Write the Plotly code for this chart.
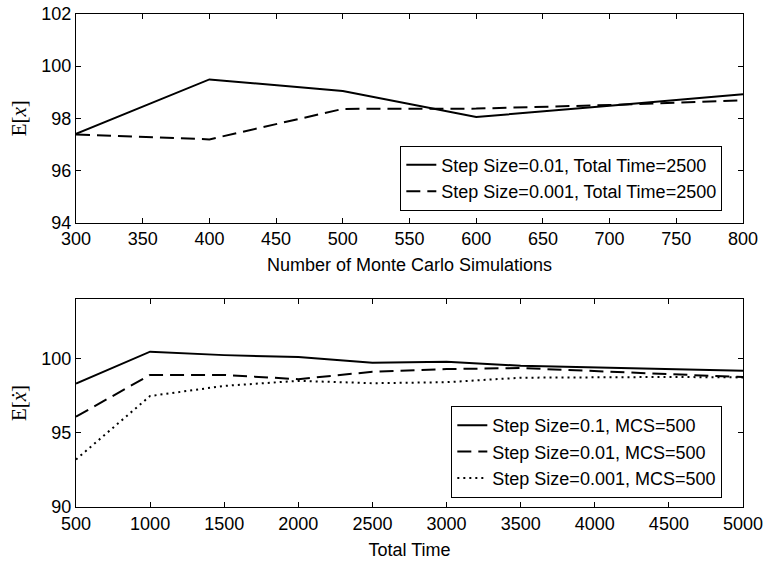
import plotly.graph_objects as go

# Top panel data
mcs = [300, 400, 500, 600, 700, 800]
top_step001 = [97.40, 99.49, 99.05, 98.05, 98.48, 98.92]
top_step0001 = [97.38, 97.19, 98.36, 98.37, 98.51, 98.69]
top_names = ["Step Size=0.01, Total Time=2500", "Step Size=0.001, Total Time=2500"]

# Bottom panel data
total_time = [500, 1000, 1500, 2000, 2500, 3000, 3500, 4000, 4500, 5000]
bot_step01 = [98.31, 100.45, 100.22, 100.09, 99.70, 99.78, 99.50, 99.40, 99.28, 99.16]
bot_step001 = [96.08, 98.89, 98.89, 98.60, 99.10, 99.28, 99.35, 99.16, 98.94, 98.74]
bot_step0001 = [93.20, 97.47, 98.15, 98.49, 98.33, 98.40, 98.70, 98.75, 98.75, 98.72]
bot_names = ["Step Size=0.1, MCS=500", "Step Size=0.01, MCS=500", "Step Size=0.001, MCS=500"]

top_xticks = list(range(300, 801, 50))
top_yticks = [94, 96, 98, 100, 102]
bot_xticks = list(range(500, 5001, 500))
bot_yticks = [90, 95, 100]

font_sans = "Liberation Sans, Arial, sans-serif"
font_serif = "Liberation Serif, DejaVu Serif, serif"

fig = go.Figure()
dashes = ["solid", "14px,7px", "2px,4px"]

fig.add_trace(go.Scatter(x=mcs, y=top_step001, mode="lines", name=top_names[0],
                         line=dict(color="black", width=2, dash=dashes[0]),
                         xaxis="x", yaxis="y", legend="legend"))
fig.add_trace(go.Scatter(x=mcs, y=top_step0001, mode="lines", name=top_names[1],
                         line=dict(color="black", width=2, dash=dashes[1]),
                         xaxis="x", yaxis="y", legend="legend"))

for vals, nm, d in zip([bot_step01, bot_step001, bot_step0001], bot_names, dashes):
    fig.add_trace(go.Scatter(x=total_time, y=vals, mode="lines", name=nm,
                             line=dict(color="black", width=2, dash=d),
                             xaxis="x2", yaxis="y2", legend="legend2"))

axis_common = dict(showline=True, linecolor="black", linewidth=1, mirror="ticks",
                   ticks="inside", ticklen=5, tickcolor="black", showgrid=False,
                   zeroline=False, automargin=False,
                   tickfont=dict(family=font_sans, size=18, color="black"))

legend_common = dict(x=0.969, xanchor="right", yanchor="top",
                     bgcolor="white", bordercolor="black", borderwidth=1,
                     font=dict(family=font_sans, size=18, color="black"),
                     tracegroupgap=0)

fig.update_layout(
    width=764, height=567,
    margin=dict(l=76, r=21, t=14, b=60, autoexpand=False),
    plot_bgcolor="white", paper_bgcolor="white",
    xaxis=dict(domain=[0, 1], anchor="y", range=[300, 800], tickvals=top_xticks,
               title=dict(text="Number of Monte Carlo Simulations", standoff=10,
                          font=dict(family=font_sans, size=18, color="black")),
               **axis_common),
    yaxis=dict(domain=[0.577, 1.0], anchor="x", range=[94, 102], tickvals=top_yticks,
               title=dict(text="E[<i>x</i>]", standoff=8,
                          font=dict(family=font_serif, size=21, color="black")),
               **axis_common),
    xaxis2=dict(domain=[0, 1], anchor="y2", range=[500, 5000], tickvals=bot_xticks,
                title=dict(text="Total Time", standoff=10,
                           font=dict(family=font_sans, size=18, color="black")),
                **axis_common),
    yaxis2=dict(domain=[0, 0.422], anchor="x2", range=[90, 104], tickvals=bot_yticks,
                title=dict(text="E[<i>ẋ</i>]", standoff=8,
                           font=dict(family=font_serif, size=21, color="black")),
                **axis_common),
    legend=dict(y=0.733, **legend_common),
    legend2=dict(y=0.205, **legend_common),
)

fig.write_html("out.html")
